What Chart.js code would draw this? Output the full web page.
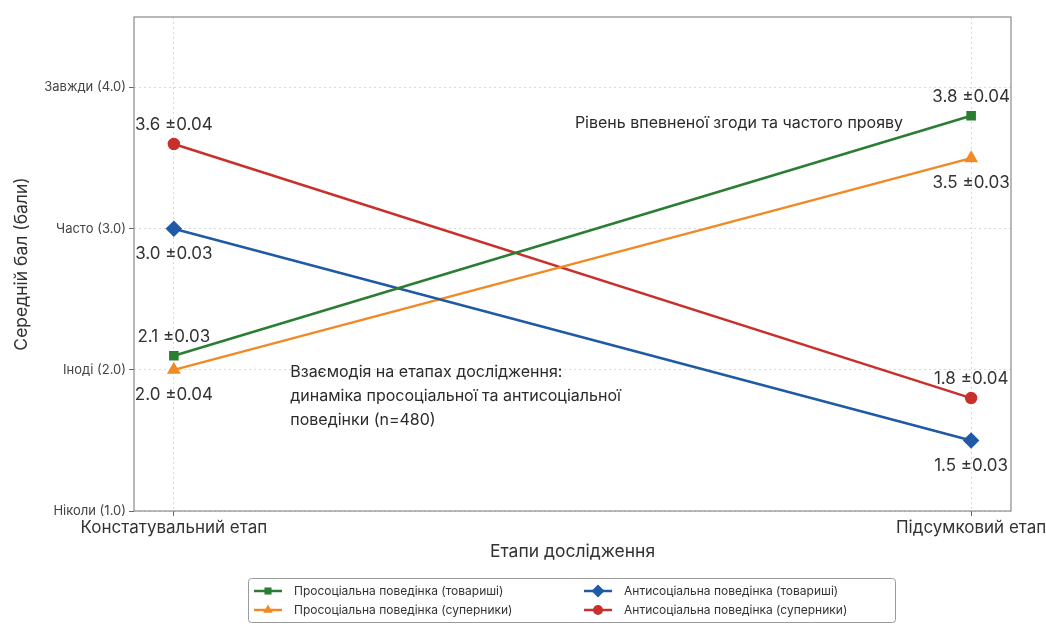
<!DOCTYPE html>
<html lang="uk">
<head>
<meta charset="utf-8">
<title>Динаміка просоціальної та антисоціальної поведінки</title>
<script src="https://cdn.jsdelivr.net/npm/chart.js@4.4.1/dist/chart.umd.min.js"></script>
<style>
  html, body { margin: 0; padding: 0; background: #ffffff; }
  #wrap { width: 1046px; height: 626px; position: relative; }
</style>
</head>
<body>
<div id="wrap"><canvas id="chart" width="1046" height="626"></canvas></div>
<script>
// Етапи дослідження (вісь X)
const stages = ['Констатувальний етап', 'Підсумковий етап'];
const stagePositions = [0, 1];

// Шкала частоти (вісь Y)
const scaleValues = [1, 2, 3, 4];
const scaleLabels = ['Ніколи (1.0)', 'Іноді (2.0)', 'Часто (3.0)', 'Завжди (4.0)'];

// Середні бали та похибки за групами
const proComrades = [2.1, 3.8];
const proComradesErr = [0.03, 0.04];
const antiComrades = [3.0, 1.5];
const antiComradesErr = [0.03, 0.03];
const proRivals = [2.0, 3.5];
const proRivalsErr = [0.04, 0.03];
const antiRivals = [3.6, 1.8];
const antiRivalsErr = [0.04, 0.04];

const seriesNames = [
  'Просоціальна поведінка (товариші)',
  'Антисоціальна поведінка (товариші)',
  'Просоціальна поведінка (суперники)',
  'Антисоціальна поведінка (суперники)'
];

// Текстові підписи всередині графіка
const noteTop = 'Рівень впевненої згоди та частого прояву';
const noteTopAt = [0.503, 3.75];
const noteMain = [
  'Взаємодія на етапах дослідження:',
  'динаміка просоціальної та антисоціальної',
  'поведінки (n=480)'
];
const noteMainAt = [0.146, 1.98];

const FONT = 'Inter, "Open Sans", "DejaVu Sans", sans-serif';

function toPoints(values) {
  return values.map((v, i) => ({ x: stagePositions[i], y: v }));
}

function series(label, values, errs, color, pointStyle, radius, side) {
  return {
    label: label,
    data: toPoints(values),
    errs: errs,
    labelSide: side,
    borderColor: color,
    backgroundColor: color,
    pointBackgroundColor: color,
    pointBorderColor: color,
    pointStyle: pointStyle,
    pointRadius: radius,
    pointHoverRadius: radius,
    borderWidth: 2.5,
    tension: 0
  };
}

const datasets = [
  series(seriesNames[0], proComrades, proComradesErr, '#2a7d33', 'rect', 5, 'above'),
  series(seriesNames[1], antiComrades, antiComradesErr, '#1f5aa6', 'rectRot', 6.5, 'below'),
  series(seriesNames[2], proRivals, proRivalsErr, '#f08a24', 'triangle', 5.5, 'below'),
  series(seriesNames[3], antiRivals, antiRivalsErr, '#c8302c', 'circle', 5, 'above')
];

// Рамка навколо області графіка
const frame = {
  id: 'frame',
  afterDraw(chart) {
    const { ctx, chartArea: a } = chart;
    ctx.save();
    ctx.strokeStyle = '#8a8a8a';
    ctx.lineWidth = 1.2;
    ctx.strokeRect(a.left, a.top, a.right - a.left, a.bottom - a.top);
    ctx.restore();
  }
};

// Підписи значень біля точок
const valueLabels = {
  id: 'valueLabels',
  afterDatasetsDraw(chart) {
    const { ctx } = chart;
    ctx.save();
    ctx.font = '17px ' + FONT;
    ctx.fillStyle = '#333333';
    ctx.textAlign = 'center';
    ctx.textBaseline = 'middle';
    chart.data.datasets.forEach((ds, di) => {
      const meta = chart.getDatasetMeta(di);
      meta.data.forEach((pt, i) => {
        const v = ds.data[i].y;
        const text = v.toFixed(1) + ' ±' + ds.errs[i].toFixed(2);
        const dy = ds.labelSide === 'above' ? -19 : 25;
        ctx.fillText(text, pt.x, pt.y + dy);
      });
    });
    ctx.restore();
  }
};

// Текстові примітки
const notes = {
  id: 'notes',
  afterDatasetsDraw(chart) {
    const { ctx, scales: { x, y } } = chart;
    ctx.save();
    ctx.font = '16px ' + FONT;
    ctx.fillStyle = '#2b2b2b';
    ctx.textAlign = 'left';
    ctx.textBaseline = 'middle';
    ctx.fillText(noteTop, x.getPixelForValue(noteTopAt[0]), y.getPixelForValue(noteTopAt[1]));
    const nx = x.getPixelForValue(noteMainAt[0]);
    const ny = y.getPixelForValue(noteMainAt[1]);
    noteMain.forEach((line, k) => ctx.fillText(line, nx, ny + k * 24));
    ctx.restore();
  }
};

// Легенда у рамці, дві колонки
const boxLegend = {
  id: 'boxLegend',
  afterDraw(chart) {
    const { ctx } = chart;
    const box = { x: 248.5, y: 578.5, w: 647, h: 44 };
    ctx.save();
    ctx.fillStyle = '#ffffff';
    ctx.strokeStyle = '#9a9a9a';
    ctx.lineWidth = 1;
    ctx.beginPath();
    ctx.roundRect(box.x, box.y, box.w, box.h, 3);
    ctx.fill();
    ctx.stroke();
    const cols = [254, 584];
    const rows = [591, 610];
    ctx.font = '12px ' + FONT;
    ctx.textBaseline = 'middle';
    chart.data.datasets.forEach((ds, i) => {
      const cx = cols[i % 2];
      const cy = rows[Math.floor(i / 2)];
      ctx.strokeStyle = ds.borderColor;
      ctx.lineWidth = 2.5;
      ctx.beginPath();
      ctx.moveTo(cx, cy);
      ctx.lineTo(cx + 28, cy);
      ctx.stroke();
      ctx.fillStyle = ds.backgroundColor;
      Chart.helpers.drawPoint(ctx, {
        pointStyle: ds.pointStyle,
        radius: ds.pointRadius,
        rotation: 0,
        borderWidth: 0
      }, cx + 14, cy);
      ctx.fillStyle = '#333333';
      ctx.fillText(ds.label, cx + 40, cy);
    });
    ctx.restore();
  }
};

const gridStyle = {
  color: '#d9d9d9',
  tickLength: 5,
  tickColor: '#666666',
  tickBorderDash: [],
  tickWidth: 1
};

new Chart(document.getElementById('chart'), {
  type: 'line',
  data: { datasets: datasets },
  plugins: [frame, valueLabels, notes, boxLegend],
  options: {
    responsive: false,
    animation: false,
    events: [],
    layout: { padding: { left: 0, right: 35, top: 17, bottom: 0 } },
    plugins: {
      legend: { display: false },
      tooltip: { enabled: false },
      title: { display: false }
    },
    scales: {
      x: {
        type: 'linear',
        min: -0.05,
        max: 1.05,
        afterBuildTicks(scale) { scale.ticks = stagePositions.map(v => ({ value: v })); },
        afterFit(scale) {
          scale.height = 115;
          // the last stage name may run past the canvas edge
          scale.paddingLeft = 0;
          scale.paddingRight = 0;
        },
        ticks: {
          autoSkip: false,
          maxRotation: 0,
          padding: 2,
          color: '#333333',
          font: { family: FONT, size: 17 },
          callback: (v) => stages[stagePositions.indexOf(v)]
        },
        grid: gridStyle,
        border: { display: false, dash: [2, 3] },
        title: {
          display: true,
          text: 'Етапи дослідження',
          color: '#333333',
          font: { family: FONT, size: 17.5 },
          padding: { top: 0, bottom: 64 }
        }
      },
      y: {
        type: 'linear',
        min: 1,
        max: 4.5,
        afterBuildTicks(scale) { scale.ticks = scaleValues.map(v => ({ value: v })); },
        afterFit(scale) {
          scale.width = 134;
          scale.paddingTop = 0;
          scale.paddingBottom = 0;
        },
        ticks: {
          padding: 3,
          color: '#444444',
          font: { family: FONT, size: 13 },
          callback: (v) => scaleLabels[scaleValues.indexOf(v)]
        },
        grid: gridStyle,
        border: { display: false, dash: [2, 3] },
        title: {
          display: true,
          text: 'Середній бал (бали)',
          color: '#333333',
          font: { family: FONT, size: 17.5 },
          padding: { top: 11, bottom: 0 }
        }
      }
    }
  }
});
</script>
</body>
</html>
